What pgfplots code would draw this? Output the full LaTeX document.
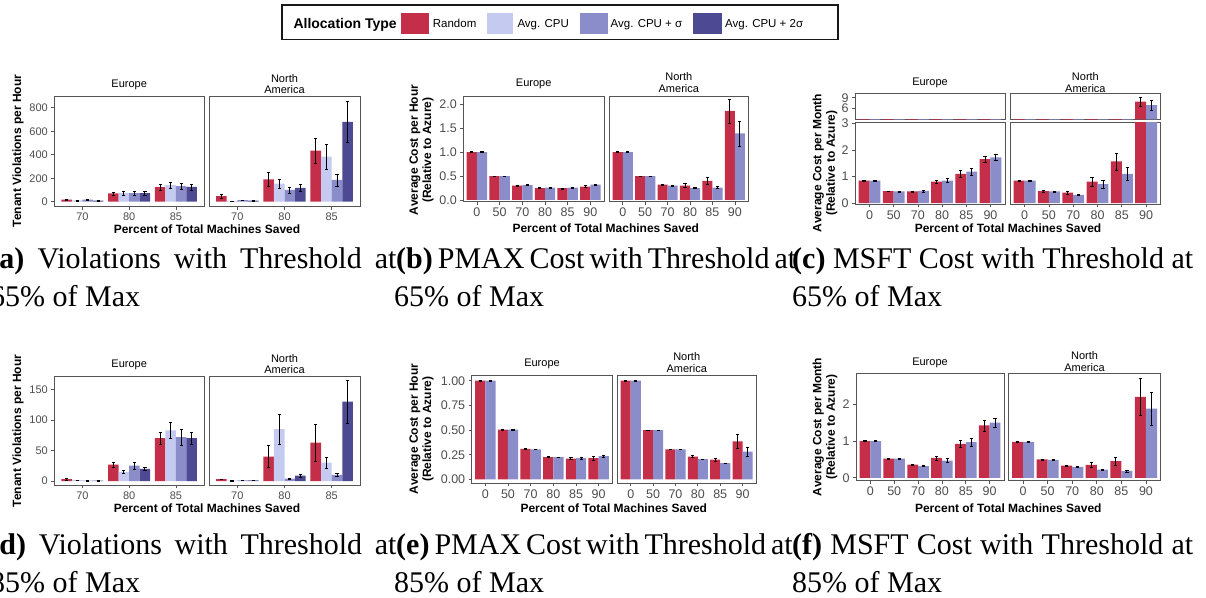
\documentclass[border=0pt]{standalone}
\usepackage{fontspec}
\setmainfont{Liberation Sans}
\newfontfamily\capfont{Liberation Serif}
\usepackage{pgfplots}
\pgfplotsset{compat=1.18}

\definecolor{cR}{RGB}{196,46,72}
\definecolor{cA}{RGB}{197,202,240}
\definecolor{cS}{RGB}{139,141,203}
\definecolor{cT}{RGB}{77,74,147}
\definecolor{frame}{RGB}{85,85,85}
\definecolor{tickgrey}{RGB}{77,77,77}

\pgfplotsset{
  facet/.style={
    scale only axis, anchor=north west, ybar=0pt,
    axis line style={draw=frame, line width=0.9pt},
    tick align=outside, major tick length=3pt,
    tick style={draw=frame, line width=0.7pt},
    xtick pos=bottom, ytick pos=left,
    /pgf/number format/assume math mode=true,
    tick label style={text=tickgrey},
    error bars/y dir=both, error bars/y explicit,
    error bars/error bar style={draw=black, line width=0.9pt, mark size=1.6pt},
  },
  small/.style={tick label style={font=\fontsize{11}{12}\selectfont}},
  big/.style={tick label style={font=\fontsize{12.5}{14}\selectfont}},
  three/.style={xmin=0.4, xmax=3.6, xtick={1,2,3}, xticklabels={70,80,85}, bar width=0.225},
  six/.style={xmin=0.4, xmax=6.6, xtick={1,2,3,4,5,6}, xticklabels={0,50,70,80,85,90}, bar width=0.45},
  noy/.style={ytick=\empty},
  bR/.style={fill=cR, draw=none},
  bA/.style={fill=cA, draw=none},
  bS/.style={fill=cS, draw=none},
  bT/.style={fill=cT, draw=none},
}

\tikzset{
  strip/.style={font=\fontsize{11}{11.7}\selectfont, align=center, inner sep=0pt},
  xtitle/.style={font=\bfseries\fontsize{12}{14}\selectfont, inner sep=0pt},
  ytitle/.style={font=\bfseries\fontsize{12}{13.3}\selectfont, align=center, rotate=90, inner sep=0pt},
  captxt/.style={font=\capfont\fontsize{30}{36}\selectfont, anchor=base west, inner sep=0pt},
  leg/.style={font=\fontsize{11.5}{13}\selectfont, anchor=base west, inner sep=0pt},
}

\begin{document}
\begin{tikzpicture}
\path[use as bounding box] (0,0) rectangle (1206pt,-597pt);

% legend
\draw[line width=1.6pt, draw=black!90] (281.7pt,-5pt) rectangle (838pt,-39.3pt);
\node[anchor=base west, inner sep=0pt, font=\bfseries\fontsize{14}{16}\selectfont] at (293.3pt,-28.3pt) {Allocation Type};
\fill[cR] (400.7pt,-13.3pt) rectangle (429.3pt,-34pt);
\node[leg] at (432.7pt,-27.4pt) {Random};
\fill[cA] (486.7pt,-13.3pt) rectangle (513.3pt,-34pt);
\node[leg] at (517.3pt,-27.4pt) {Avg. CPU};
\fill[cS] (580pt,-13.3pt) rectangle (608.3pt,-34pt);
\node[leg] at (610.5pt,-27.4pt) {Avg. CPU + σ};
\fill[cT] (693.3pt,-13.3pt) rectangle (721.7pt,-34pt);
\node[leg] at (725pt,-27.4pt) {Avg. CPU + 2σ};

% ---------------- (a) violations, threshold 65
\begin{axis}[facet, small, three, at={(54.3pt,-96pt)}, width=149.7pt, height=110.7pt,
  ymin=-42.5, ymax=900, ytick={0,200,400,600,800}]
\addplot[bR] coordinates {(1,18) +- (0,6) (2,70) +- (0,15) (3,125) +- (0,25)};
\addplot[bA] coordinates {(1,12) +- (0,4) (2,75) +- (0,18) (3,142) +- (0,25)};
\addplot[bS] coordinates {(1,17) +- (0,5) (2,73) +- (0,15) (3,133) +- (0,25)};
\addplot[bT] coordinates {(1,10) +- (0,4) (2,72) +- (0,15) (3,127) +- (0,25)};
\end{axis}
\begin{axis}[facet, small, three, noy, at={(209pt,-96pt)}, width=151pt, height=110.7pt,
  ymin=-42.5, ymax=900]
\addplot[bR] coordinates {(1,48) +- (0,15) (2,190) +- (0,60) (3,435) +- (0,105)};
\addplot[bA] coordinates {(1,4) +- (0,3) (2,155) +- (0,40) (3,383) +- (0,105)};
\addplot[bS] coordinates {(1,13) +- (0,4) (2,100) +- (0,25) (3,185) +- (0,50)};
\addplot[bT] coordinates {(1,10) +- (0,4) (2,118) +- (0,30) (3,680) +- (0,175)};
\end{axis}
\node[strip] at (129.2pt,-85pt) {Europe};
\node[strip] at (284.5pt,-84.2pt) {North\\America};
\node[xtitle] at (207pt,-229pt) {Percent of Total Machines Saved};
\node[ytitle] at (18pt,-151pt) {Tenant Violations per Hour};

% ---------------- (b) PMAX cost, threshold 65
\begin{axis}[facet, big, six, at={(463.3pt,-96pt)}, width=140.7pt, height=105.7pt,
  ymin=-0.036, ymax=2.17, ytick={0,0.5,1,1.5,2}, yticklabels={0.0,0.5,1.0,1.5,2.0}]
\addplot[bR] coordinates {(1,1.00) +- (0,0.01) (2,0.50) +- (0,0.005) (3,0.30) +- (0,0.01) (4,0.25) +- (0,0.01) (5,0.245) +- (0,0.01) (6,0.28) +- (0,0.02)};
\addplot[bS] coordinates {(1,1.00) +- (0,0.01) (2,0.50) +- (0,0.005) (3,0.31) +- (0,0.01) (4,0.26) +- (0,0.01) (5,0.26) +- (0,0.01) (6,0.32) +- (0,0.015)};
\end{axis}
\begin{axis}[facet, big, six, noy, at={(609.3pt,-96pt)}, width=139pt, height=105.7pt,
  ymin=-0.036, ymax=2.17]
\addplot[bR] coordinates {(1,1.00) +- (0,0.01) (2,0.50) +- (0,0.005) (3,0.32) +- (0,0.01) (4,0.30) +- (0,0.04) (5,0.40) +- (0,0.07) (6,1.86) +- (0,0.25)};
\addplot[bS] coordinates {(1,1.00) +- (0,0.01) (2,0.50) +- (0,0.005) (3,0.30) +- (0,0.01) (4,0.25) +- (0,0.01) (5,0.26) +- (0,0.02) (6,1.39) +- (0,0.26)};
\end{axis}
\node[strip] at (533.7pt,-84pt) {Europe};
\node[strip] at (678.8pt,-82.5pt) {North\\America};
\node[xtitle] at (605.8pt,-228.3pt) {Percent of Total Machines Saved};
\node[ytitle] at (421.5pt,-150pt) {Average Cost per Hour\\(Relative to Azure)};

% ---------------- (c) MSFT cost, threshold 65 (broken axis)
\begin{axis}[facet, big, six, xtick=\empty, at={(855pt,-93.3pt)}, width=150pt, height=26pt,
  ymin=2.88, ymax=10.25, ytick={6,9}]
\addplot[bR] coordinates {(1,0.85) (2,0.45) (3,0.44) (4,0.81) (5,1.10) (6,1.65)};
\addplot[bS] coordinates {(1,0.85) (2,0.44) (3,0.46) (4,0.85) (5,1.18) (6,1.72)};
\end{axis}
\begin{axis}[facet, big, six, xtick=\empty, noy, at={(1010pt,-93.3pt)}, width=150.7pt, height=26pt,
  ymin=2.88, ymax=10.25]
\addplot[bR] coordinates {(1,0.85) +- (0,0.01) (2,0.45) +- (0,0.02) (3,0.40) +- (0,0.06) (4,0.81) +- (0,0.18) (5,1.57) +- (0,0.32) (6,7.9) +- (0,1.2)};
\addplot[bS] coordinates {(1,0.85) +- (0,0.01) (2,0.44) +- (0,0.01) (3,0.31) +- (0,0.02) (4,0.72) +- (0,0.15) (5,1.10) +- (0,0.25) (6,6.9) +- (0,1.5)};
\end{axis}
\begin{axis}[facet, big, six, at={(855pt,-122.7pt)}, width=150pt, height=81.3pt,
  ymin=-0.03, ymax=3.02, ytick={0,1,2,3}]
\addplot[bR] coordinates {(1,0.85) +- (0,0.01) (2,0.45) +- (0,0.01) (3,0.44) +- (0,0.02) (4,0.81) +- (0,0.07) (5,1.10) +- (0,0.12) (6,1.65) +- (0,0.12)};
\addplot[bS] coordinates {(1,0.85) +- (0,0.01) (2,0.44) +- (0,0.01) (3,0.46) +- (0,0.03) (4,0.85) +- (0,0.07) (5,1.18) +- (0,0.12) (6,1.72) +- (0,0.10)};
\end{axis}
\begin{axis}[facet, big, six, noy, at={(1010pt,-122.7pt)}, width=150.7pt, height=81.3pt,
  ymin=-0.03, ymax=3.02]
\addplot[bR] coordinates {(1,0.85) +- (0,0.01) (2,0.45) +- (0,0.02) (3,0.40) +- (0,0.06) (4,0.81) +- (0,0.18) (5,1.57) +- (0,0.32) (6,7.9) +- (0,1.2)};
\addplot[bS] coordinates {(1,0.85) +- (0,0.01) (2,0.44) +- (0,0.01) (3,0.31) +- (0,0.02) (4,0.72) +- (0,0.15) (5,1.10) +- (0,0.25) (6,6.9) +- (0,1.5)};
\end{axis}
\node[strip] at (930pt,-83pt) {Europe};
\node[strip] at (1085.4pt,-82.5pt) {North\\America};
\node[xtitle] at (1008pt,-228.3pt) {Percent of Total Machines Saved};
\node[ytitle] at (825pt,-163pt) {Average Cost per Month\\(Relative to Azure)};

% ---------------- (d) violations, threshold 85
\begin{axis}[facet, small, three, at={(54.3pt,-376.7pt)}, width=149.7pt, height=108.3pt,
  ymin=-6.5, ymax=170.6, ytick={0,50,100,150}]
\addplot[bR] coordinates {(1,3) +- (0,1) (2,27) +- (0,4) (3,70) +- (0,10)};
\addplot[bA] coordinates {(1,1.5) +- (0,0.5) (2,15) +- (0,3) (3,83) +- (0,13)};
\addplot[bS] coordinates {(1,0.5) +- (0,0.3) (2,25) +- (0,5) (3,72) +- (0,13)};
\addplot[bT] coordinates {(1,0.5) +- (0,0.3) (2,20) +- (0,2) (3,70) +- (0,10)};
\end{axis}
\begin{axis}[facet, small, three, noy, at={(209pt,-376.7pt)}, width=151pt, height=108.3pt,
  ymin=-6.5, ymax=170.6]
\addplot[bR] coordinates {(1,3) +- (0,0.8) (2,40) +- (0,18) (3,63) +- (0,30)};
\addplot[bA] coordinates {(1,0.8) +- (0,0.3) (2,85) +- (0,25) (3,30) +- (0,9)};
\addplot[bS] coordinates {(1,1) +- (0,0.3) (2,4) +- (0,1) (3,10) +- (0,2)};
\addplot[bT] coordinates {(1,1) +- (0,0.3) (2,9) +- (0,2) (3,130) +- (0,35)};
\end{axis}
\node[strip] at (129.2pt,-365pt) {Europe};
\node[strip] at (284.5pt,-364.2pt) {North\\America};
\node[xtitle] at (207pt,-508.3pt) {Percent of Total Machines Saved};
\node[ytitle] at (18pt,-431pt) {Tenant Violations per Hour};

% ---------------- (e) PMAX cost, threshold 85
\begin{axis}[facet, big, six, at={(471.7pt,-375pt)}, width=140.6pt, height=108.3pt,
  ymin=-0.04, ymax=1.058, ytick={0,0.25,0.5,0.75,1}, yticklabels={0.00,0.25,0.50,0.75,1.00}]
\addplot[bR] coordinates {(1,1.00) +- (0,0.004) (2,0.505) +- (0,0.003) (3,0.31) +- (0,0.003) (4,0.225) +- (0,0.005) (5,0.21) +- (0,0.01) (6,0.215) +- (0,0.02)};
\addplot[bS] coordinates {(1,1.00) +- (0,0.004) (2,0.505) +- (0,0.003) (3,0.305) +- (0,0.003) (4,0.225) +- (0,0.004) (5,0.215) +- (0,0.01) (6,0.235) +- (0,0.012)};
\end{axis}
\begin{axis}[facet, big, six, noy, at={(617.3pt,-375pt)}, width=138.7pt, height=108.3pt,
  ymin=-0.04, ymax=1.058]
\addplot[bR] coordinates {(1,1.00) +- (0,0.004) (2,0.50) +- (0,0.003) (3,0.305) +- (0,0.003) (4,0.23) +- (0,0.01) (5,0.20) +- (0,0.015) (6,0.385) +- (0,0.07)};
\addplot[bS] coordinates {(1,1.00) +- (0,0.004) (2,0.50) +- (0,0.003) (3,0.305) +- (0,0.003) (4,0.205) +- (0,0.004) (5,0.165) +- (0,0.003) (6,0.28) +- (0,0.05)};
\end{axis}
\node[strip] at (542pt,-364pt) {Europe};
\node[strip] at (686.7pt,-362.5pt) {North\\America};
\node[xtitle] at (613.8pt,-508.3pt) {Percent of Total Machines Saved};
\node[ytitle] at (421.5pt,-429pt) {Average Cost per Hour\\(Relative to Azure)};

% ---------------- (f) MSFT cost, threshold 85
\begin{axis}[facet, big, six, at={(856pt,-373.3pt)}, width=148pt, height=107.4pt,
  ymin=-0.08, ymax=2.845, ytick={0,1,2}]
\addplot[bR] coordinates {(1,1.00) +- (0,0.01) (2,0.52) +- (0,0.01) (3,0.36) +- (0,0.01) (4,0.54) +- (0,0.05) (5,0.92) +- (0,0.10) (6,1.43) +- (0,0.15)};
\addplot[bS] coordinates {(1,1.00) +- (0,0.01) (2,0.52) +- (0,0.01) (3,0.32) +- (0,0.01) (4,0.47) +- (0,0.05) (5,0.97) +- (0,0.12) (6,1.50) +- (0,0.13)};
\end{axis}
\begin{axis}[facet, big, six, noy, at={(1008.3pt,-373.3pt)}, width=152.4pt, height=107.4pt,
  ymin=-0.08, ymax=2.845]
\addplot[bR] coordinates {(1,0.98) +- (0,0.01) (2,0.50) +- (0,0.01) (3,0.33) +- (0,0.01) (4,0.35) +- (0,0.07) (5,0.45) +- (0,0.10) (6,2.20) +- (0,0.50)};
\addplot[bS] coordinates {(1,0.98) +- (0,0.01) (2,0.49) +- (0,0.01) (3,0.30) +- (0,0.01) (4,0.22) +- (0,0.01) (5,0.18) +- (0,0.02) (6,1.88) +- (0,0.45)};
\end{axis}
\node[strip] at (930pt,-363.3pt) {Europe};
\node[strip] at (1084.5pt,-361.7pt) {North\\America};
\node[xtitle] at (1008.3pt,-508.3pt) {Percent of Total Machines Saved};
\node[ytitle] at (825pt,-427pt) {Average Cost per Month\\(Relative to Azure)};

% ---------------- captions
\node[captxt] at (-10.7pt,-268pt) {\makebox[407pt][s]{\textbf{(a)} Violations with Threshold at}};
\node[captxt] at (-10pt,-306pt) {65\% of Max};
\node[captxt] at (396pt,-268pt) {\makebox[396pt][s]{\textbf{(b)} PMAX Cost with Threshold at}};
\node[captxt] at (394pt,-306pt) {65\% of Max};
\node[captxt] at (792pt,-268pt) {\makebox[401pt][s]{\textbf{(c)} MSFT Cost with Threshold at}};
\node[captxt] at (792pt,-306pt) {65\% of Max};

\node[captxt] at (-10.7pt,-554pt) {\makebox[407pt][s]{\textbf{(d)} Violations with Threshold at}};
\node[captxt] at (-10pt,-592pt) {85\% of Max};
\node[captxt] at (396pt,-554pt) {\makebox[396pt][s]{\textbf{(e)} PMAX Cost with Threshold at}};
\node[captxt] at (394pt,-592pt) {85\% of Max};
\node[captxt] at (792pt,-554pt) {\makebox[401pt][s]{\textbf{(f)} MSFT Cost with Threshold at}};
\node[captxt] at (792pt,-592pt) {85\% of Max};
\end{tikzpicture}
\end{document}
